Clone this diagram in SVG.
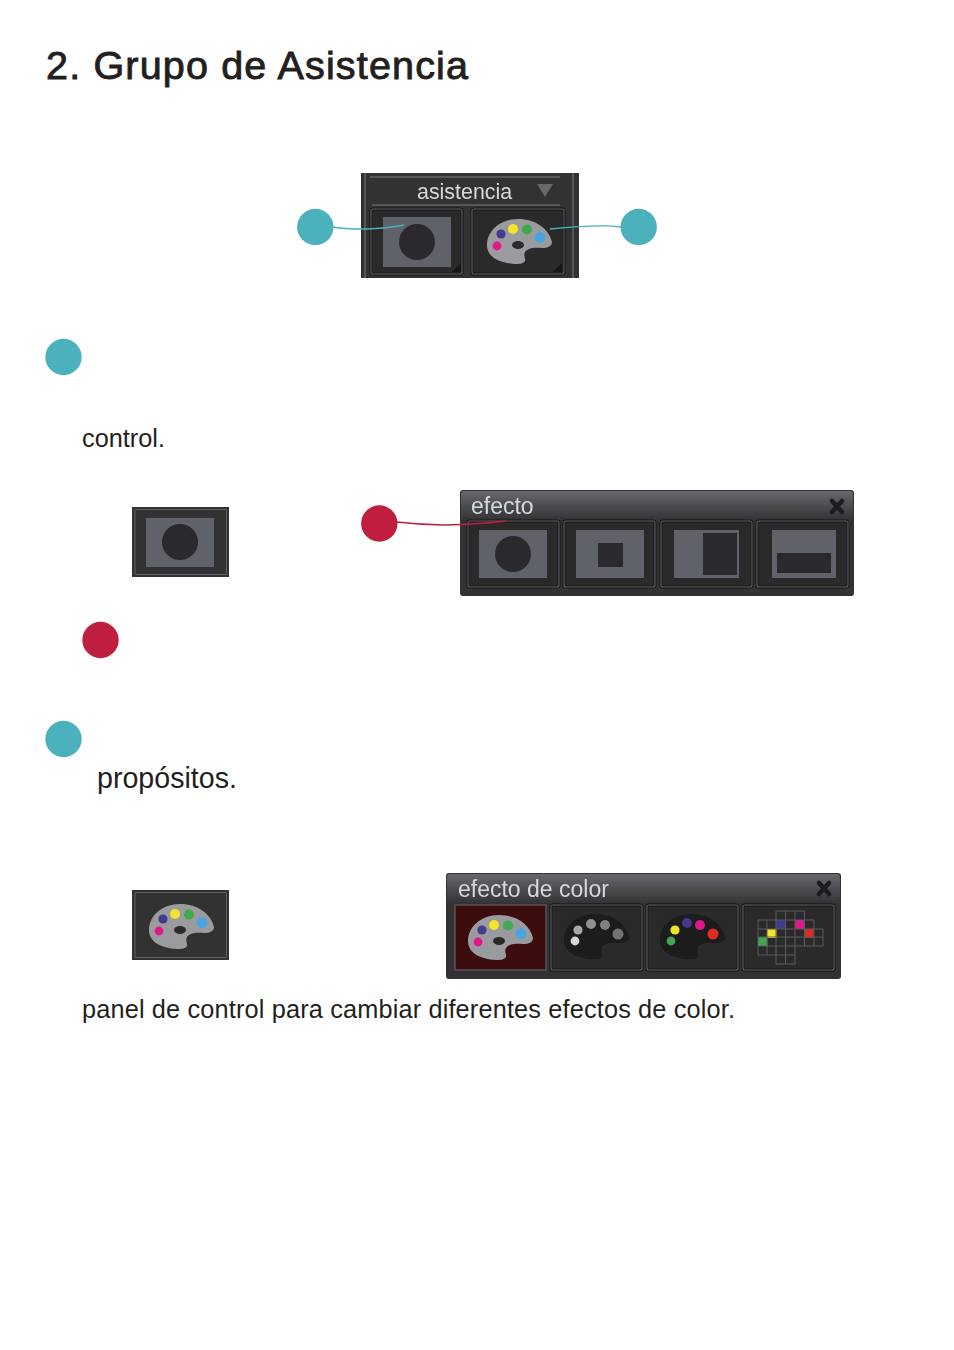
<svg xmlns="http://www.w3.org/2000/svg" xmlns:xlink="http://www.w3.org/1999/xlink" width="954" height="1350" viewBox="0 0 954 1350">
<style>
.t{font-family:"Liberation Sans",Arial,sans-serif;fill:#231f20}
.ui{font-family:"Liberation Sans",Arial,sans-serif;fill:#d5d8dc}
.panel{fill:#333335}
.btn{fill:#2a2a2c;stroke:#17171a;stroke-width:3}
.edge{fill:none;stroke:#5f6063;stroke-width:1.100}
.scr{fill:#5f6268}
.dk{fill:#2b2b2d}
.teal{fill:#4bb1bc}
.red{fill:#bf1e3e}
.lt{fill:none;stroke:#4bb1bc;stroke-width:1.500}
.lr{fill:none;stroke:#bf1e3e;stroke-width:1.500}
.rule{stroke:#626366;stroke-width:1.500;fill:none}
.x{stroke:#1f1f20;stroke-width:4.500;stroke-linecap:round}
.g{fill:none;stroke:#5b5b5e;stroke-width:1}
</style>
<defs>
<linearGradient id="bar" x1="0" y1="0" x2="0" y2="1"><stop offset="0" stop-color="#66686d"/><stop offset="1" stop-color="#323234"/></linearGradient>
<filter id="soft" x="-2%" y="-2%" width="104%" height="104%"><feGaussianBlur stdDeviation="0.5"/></filter>
<path id="pal" d="M0,26 C0,12 13,0 31,0 C49,0 62,10 65,23 C65,27 61,29 55,29 C48,28 40,29 38,33 C36,37 39,40 38,42 C36,45 32,45 28,45 C12,44 0,38 0,26 Z"/>
<g id="palette">
<use href="#pal" fill="#9a9b9e"/>
<circle cx="14" cy="15" r="4.600" fill="#433a8f"/>
<circle cx="26" cy="10" r="5" fill="#f4e52a"/>
<circle cx="40" cy="10.500" r="5" fill="#3fa94f"/>
<circle cx="53" cy="18.500" r="5.500" fill="#4ba3e0"/>
<circle cx="10" cy="27" r="4.400" fill="#e3188d"/>
<ellipse cx="31" cy="26" rx="6" ry="4" fill="#2a2a2c"/>
</g>
</defs>

<text class="t" x="46" y="79" font-size="39.500" stroke="#231f20" stroke-width="0.900" textLength="422" lengthAdjust="spacing">2. Grupo de Asistencia</text>
<text class="t" x="82" y="447" font-size="25.300" textLength="83" lengthAdjust="spacing">control.</text>
<text class="t" x="97" y="788" font-size="28.600" textLength="140" lengthAdjust="spacing">propósitos.</text>
<text class="t" x="82" y="1018" font-size="25.300" textLength="653" lengthAdjust="spacing">panel de control para cambiar diferentes efectos de color.</text>

<g id="panel-asistencia" filter="url(#soft)">
<rect class="panel" x="361" y="173" width="218" height="105"/>
<path class="rule" d="M365,173V278M573,173V278M370,177H560M372,205H560"/>
<text class="ui" x="417" y="199" font-size="21.400">asistencia</text>
<path d="M537,184H553L545,197Z" fill="#66686c"/>
<rect class="btn" x="371" y="209" width="91" height="65" rx="2"/>
<rect class="edge" x="371" y="209" width="91" height="65" rx="2"/>
<rect class="btn" x="472" y="209" width="92" height="65" rx="2"/>
<rect class="edge" x="472" y="209" width="92" height="65" rx="2"/>
<rect class="scr" x="383" y="217" width="68" height="50"/>
<circle class="dk" cx="417" cy="242" r="18"/>
<path d="M461,272H452L461,263Z" fill="#141415"/>
<path d="M562,272H553L562,263Z" fill="#141415"/>
<use href="#palette" x="487" y="219"/>
</g>

<g id="icon-efecto" filter="url(#soft)">
<rect x="132" y="507" width="97" height="70" fill="#303032"/>
<rect class="edge" x="135" y="509.500" width="91.500" height="65" rx="1"/>
<rect class="scr" x="146" y="518" width="68" height="49"/>
<circle class="dk" cx="180" cy="542" r="18"/>
</g>

<g id="panel-efecto" filter="url(#soft)">
<rect class="panel" x="460" y="490" width="394" height="106" rx="3"/>
<rect x="461" y="491" width="392" height="30" rx="3" fill="url(#bar)"/>
<text class="ui" x="471" y="514" font-size="23">efecto</text>
<path class="x" d="M832,501L842,512M842,501L832,512"/>
<rect class="btn" x="468" y="521" width="91" height="66" rx="2"/>
<rect class="edge" x="468" y="521" width="91" height="66" rx="2"/>
<rect class="btn" x="564" y="521" width="91" height="66" rx="2"/>
<rect class="edge" x="564" y="521" width="91" height="66" rx="2"/>
<rect class="btn" x="661" y="521" width="91" height="66" rx="2"/>
<rect class="edge" x="661" y="521" width="91" height="66" rx="2"/>
<rect class="btn" x="757" y="521" width="91" height="66" rx="2"/>
<rect class="edge" x="757" y="521" width="91" height="66" rx="2"/>
<rect class="scr" x="479" y="530" width="68" height="48"/>
<circle class="dk" cx="513" cy="554" r="18"/>
<rect class="scr" x="576" y="530" width="68" height="48"/>
<rect class="dk" x="598" y="543" width="25" height="24"/>
<rect class="scr" x="674" y="530" width="65" height="48"/>
<rect class="dk" x="703" y="533" width="34" height="42"/>
<rect class="scr" x="772" y="530" width="64" height="48"/>
<rect class="dk" x="777" y="553" width="54" height="20"/>
</g>

<g id="icon-color" filter="url(#soft)">
<rect x="132" y="890" width="97" height="70" fill="#303032"/>
<rect class="edge" x="135" y="892.500" width="91.500" height="65" rx="1"/>
<use href="#palette" x="149" y="904"/>
</g>

<g id="panel-color" filter="url(#soft)">
<rect class="panel" x="446" y="873" width="395" height="106" rx="3"/>
<rect x="447" y="874" width="393" height="30" rx="3" fill="url(#bar)"/>
<text class="ui" x="458" y="897" font-size="23">efecto de color</text>
<path class="x" d="M819,883L829,894M829,883L819,894"/>
<rect x="455" y="905" width="91" height="65" fill="#3c0a10" stroke="#58585b" stroke-width="1.400"/>
<rect class="btn" x="551" y="905" width="91" height="65" rx="2"/>
<rect class="edge" x="551" y="905" width="91" height="65" rx="2"/>
<rect class="btn" x="647" y="905" width="91" height="65" rx="2"/>
<rect class="edge" x="647" y="905" width="91" height="65" rx="2"/>
<rect class="btn" x="743" y="905" width="91" height="65" rx="2"/>
<rect class="edge" x="743" y="905" width="91" height="65" rx="2"/>
<use href="#palette" x="468" y="915"/>
<g transform="translate(564,914)">
<use href="#pal" fill="#1b1b1c"/>
<circle cx="14" cy="16" r="4.600" fill="#a8a8aa"/>
<circle cx="27" cy="10" r="5" fill="#909194"/>
<circle cx="41" cy="11" r="5" fill="#7f8084"/>
<circle cx="54" cy="20" r="5.500" fill="#727377"/>
<circle cx="11" cy="27" r="4.400" fill="#d6d6d6"/>
</g>
<g transform="translate(660,914)">
<use href="#pal" fill="#1b1b1c"/>
<circle cx="15" cy="16" r="4.600" fill="#f0e326"/>
<circle cx="27" cy="9" r="5" fill="#433a8f"/>
<circle cx="40" cy="11" r="5" fill="#e3188d"/>
<circle cx="53" cy="20" r="5.500" fill="#e02a27"/>
<circle cx="11" cy="27" r="4.400" fill="#3fa94f"/>
</g>
<g id="pixels">
<rect x="776" y="920" width="9.500" height="9" fill="#433a8f"/>
<rect x="795" y="920" width="9.500" height="9" fill="#e3188d"/>
<rect x="767" y="929" width="9.500" height="9" fill="#f4e52a"/>
<rect x="804" y="929" width="9.500" height="9" fill="#e02a27"/>
<rect x="758" y="937" width="9.500" height="9" fill="#3fa94f"/>
<path class="g" d="M776,911H804M758,920H814M758,929H823M758,937H823M758,946H823M758,955H795M776,964H795M776,911V964M785.500,911V964M795,911V964M804.500,911V946M814,920V946M823,929V946M767,920V955M758,920V955"/>
</g>
</g>

<g id="connectors">
<path class="lt" d="M333,227C350,230 380,230 404,225"/>
<path class="lt" d="M550,229C570,227 600,224 621,227"/>
<path class="lr" d="M397,522C430,526 460,526 506,521"/>
</g>

<g id="markers">
<circle id="m1" class="teal" cx="315.300" cy="227" r="18.200"/>
<circle id="m2" class="teal" cx="638.700" cy="227" r="18.200"/>
<circle id="m3" class="teal" cx="63.500" cy="357" r="18.200"/>
<circle id="m4" class="red" cx="379.300" cy="523.500" r="18.200"/>
<circle id="m5" class="red" cx="100.500" cy="640" r="18.200"/>
<circle id="m6" class="teal" cx="63.500" cy="739" r="18.200"/>
</g>
</svg>
